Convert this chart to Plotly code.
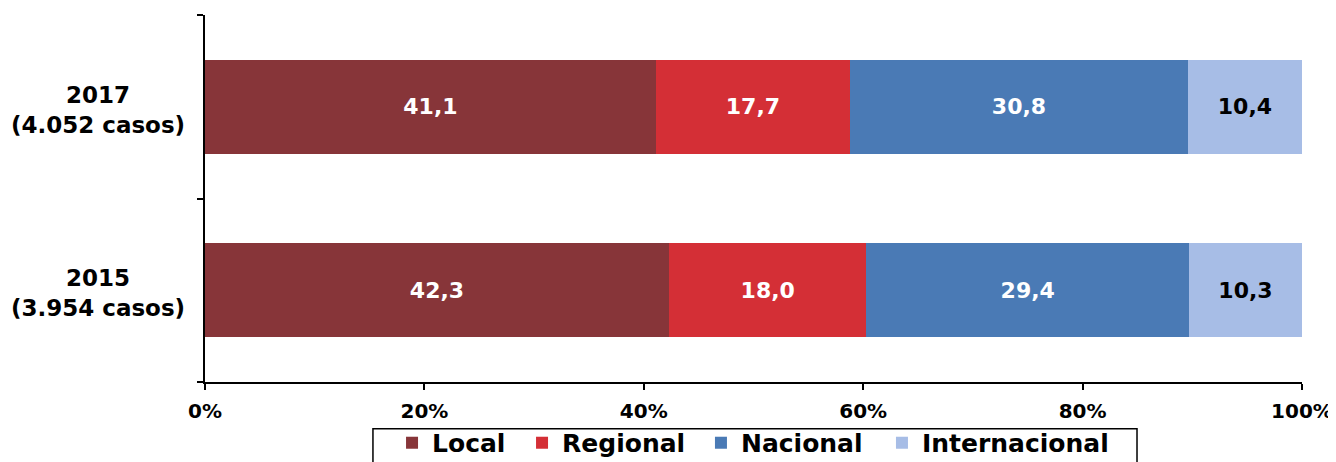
import plotly.graph_objects as go

years = ["2015", "2017"]
casos = ["3.954", "4.052"]
series = ["Local", "Regional", "Nacional", "Internacional"]
local = [42.3, 41.1]
regional = [18.0, 17.7]
nacional = [29.4, 30.8]
internacional = [10.3, 10.4]
colors = ["#873539", "#D42F36", "#4A7AB5", "#A7BDE6"]
text_colors = ["white", "white", "white", "black"]

FONT = "DejaVu Sans"

cats = [f"{y} ({c} casos)" for y, c in zip(years, casos)]

# one legend per series so the entries can be spaced like the original
legend_ids = ["legend", "legend2", "legend3", "legend4"]
legend_x = [0.1705, 0.2890, 0.4521, 0.6171]

fig = go.Figure()
for name, vals, col, tcol, lid in zip(series, [local, regional, nacional, internacional],
                                      colors, text_colors, legend_ids):
    fig.add_trace(go.Bar(
        y=cats,
        x=[v / 100 for v in vals],
        name=name,
        orientation="h",
        legend=lid,
        marker=dict(color=col, line=dict(width=0)),
        text=[f"{v:.1f}".replace(".", ",") for v in vals],
        textposition="inside",
        insidetextanchor="middle",
        textangle=0,
        constraintext="none",
        textfont=dict(family=FONT, size=22, color=tcol, weight="bold"),
    ))

# category labels, centred two-line text left of the axis
for cat, y, c in zip(cats, years, casos):
    fig.add_annotation(
        x=-0.0975, xref="paper", y=cat, yref="y", yshift=-3,
        text=f"{y}<br>({c} casos)",
        showarrow=False, xanchor="center", align="center",
        font=dict(family=FONT, size=23, color="black", weight="bold"),
    )

legend_style = dict(
    orientation="h", xanchor="left", y=-0.1035, yanchor="top",
    bgcolor="rgba(0,0,0,0)", borderwidth=0,
    font=dict(family=FONT, size=25, color="black", weight="bold"),
)
layout_legends = {lid: dict(legend_style, x=lx) for lid, lx in zip(legend_ids, legend_x)}

fig.update_layout(
    width=1328, height=454,
    barmode="stack", bargap=0.49,
    plot_bgcolor="white", paper_bgcolor="white",
    margin=dict(l=197, r=34, t=7, b=80, autoexpand=False),
    showlegend=True,
    **layout_legends,
)

# legend frame
fig.add_shape(
    type="rect", xref="paper", yref="paper",
    x0=0.1531, x1=0.8496, y0=-0.1272, y1=-0.35,
    line=dict(color="black", width=1.5), fillcolor="rgba(0,0,0,0)",
    layer="above",
)

fig.update_xaxes(
    range=[0, 1], dtick=0.2, tickformat=".0%",
    showgrid=False, zeroline=False,
    showline=True, linecolor="black", linewidth=2,
    ticks="outside", ticklen=6, tickcolor="black", tickwidth=1.5,
    ticklabelstandoff=4,
    tickfont=dict(family=FONT, size=20, color="black", weight="bold"),
)
fig.update_yaxes(
    range=[-0.5, 1.5], categoryorder="array", categoryarray=cats,
    showticklabels=False, tickson="boundaries",
    showgrid=False, zeroline=False,
    showline=True, linecolor="black", linewidth=2,
    ticks="outside", ticklen=6, tickcolor="black", tickwidth=1.5,
)

fig.write_html("out.html")
